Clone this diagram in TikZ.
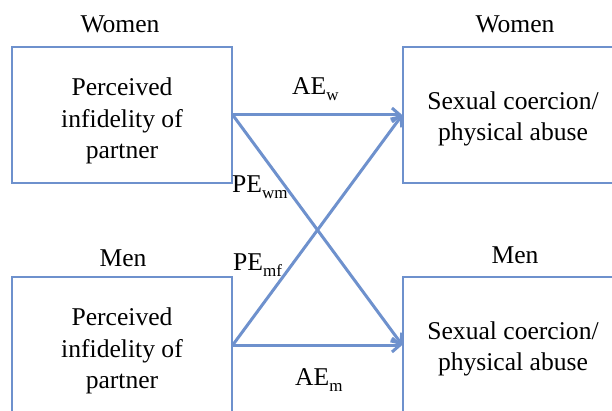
\documentclass[tikz,border=0pt]{standalone}
\usepackage{fontspec}
\setmainfont{Liberation Serif}
\usetikzlibrary{arrows.meta}
\definecolor{lineblue}{RGB}{110,145,205}
\newcommand\lowsub[1]{\raisebox{-6pt}{\fontsize{17}{17}\selectfont #1}}
\tikzset{
  box/.style={draw=lineblue, line width=1.5pt, minimum width=220pt, minimum height=136pt, inner sep=0pt},
  boxtext/.style={align=center, inner sep=0pt},
  conn/.style={draw=lineblue, line width=3pt, -{Straight Barb[length=8pt,width=14pt,line width=3pt]}},
  lbl/.style={anchor=base, inner sep=0pt},
  coef/.style={anchor=base west, inner sep=0pt}
}
\begin{document}
\begin{tikzpicture}[x=1pt,y=-1pt,font=\fontsize{25.6}{31.5}\selectfont]
\useasboundingbox (0,0) rectangle (612,411);
\begin{scope}[overlay]
\clip (0,0) rectangle (612,411);
\node[box] (wl) at (122,115) {};
\node[box] (wr) at (513,115) {};
\node[box] (ml) at (122,345) {};
\node[box] (mr) at (513,345) {};
\node[boxtext] (wlt) at (122,121) {Perceived\\infidelity of\\partner};
\node[boxtext] (wrt) at (513,119) {Sexual coercion/\\physical abuse};
\node[boxtext] (mlt) at (122,351) {Perceived\\infidelity of\\partner};
\node[boxtext] (mrt) at (513,349) {Sexual coercion/\\physical abuse};
\node[lbl] (lwl) at (120,33) {Women};
\node[lbl] (lwr) at (515,33) {Women};
\node[lbl] (lml) at (123,266) {Men};
\node[lbl] (lmr) at (515,263) {Men};
\node[coef] (aew) at (292,95) {AE\lowsub{w}};
\node[coef] (aem) at (295,385) {AE\lowsub{m}};
\node[coef] (pewm) at (232,193) {PE\lowsub{wm}};
\node[coef] (pemf) at (233,270) {PE\lowsub{mf}};
\draw[conn] (wl.east) -- (wr.west);
\draw[conn] (wl.east) -- (mr.west);
\draw[conn] (ml.east) -- (wr.west);
\draw[conn] (ml.east) -- (mr.west);
\end{scope}
\end{tikzpicture}
\end{document}
